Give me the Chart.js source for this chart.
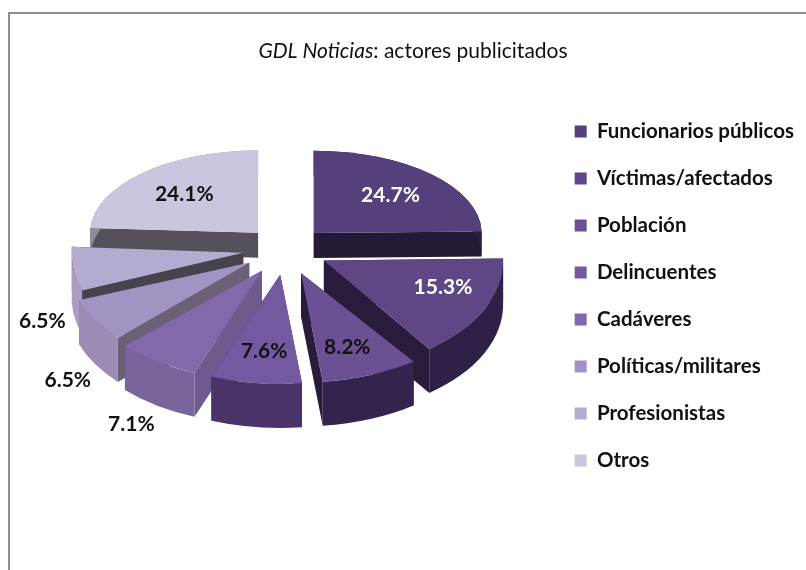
<!DOCTYPE html>
<html>
<head>
<meta charset="utf-8">
<title>GDL Noticias</title>
<style>
html, body { margin: 0; padding: 0; background: #fff; }
canvas { display: block; }
</style>
<script src="https://cdn.jsdelivr.net/npm/chart.js@4/dist/chart.umd.min.js"></script>
</head>
<body>
<canvas id="actores" width="806" height="570"></canvas>
<script>
// values
var categories = ["Funcionarios públicos", "Víctimas/afectados", "Población", "Delincuentes", "Cadáveres", "Políticas/militares", "Profesionistas", "Otros"];
var values = [24.7, 15.3, 8.2, 7.6, 7.1, 6.5, 6.5, 24.1];

var topColors = ["#54407b", "#5f4785", "#6a5193", "#735aa0", "#8169ab", "#a193c2", "#b5abd0", "#cbc6df"];
var wallColors = ["#2a1d40", "#2e2047", "#33244e", "#4a3369", "#7a649c", "#9a8cb4", "#a89dc2", "#8f8a9c"];
var cutColors = ["#241a36", "#281b3c", "#281b3c", "#3c2a58", "#6f5a90", "#6a6178", "#47424e", "#55505a"];
var labelColors = ["#fff", "#fff", "#111", "#111", "#111", "#111", "#111", "#111"];

// where each % label sits, as a share of the radius and a turn from the slice middle
var labelRadius = [0.65, 0.707, 0.725, 0.71, 1.58, 1.476, 1.28, 0.64];
var labelTurn = [0.3, -6, 0.5, 0, -6.3, -15, -20.7, 0];

var fontName = "Lato, sans-serif";
var explode = 40;

// perspective: the far half of the pie is flatter and thinner than the near half
var farSide = { sx: 1, sy: 0.49, depth: 25, cy: 247, widen: 0 };
var nearSide = { sx: 1.07, sy: 0.65, depth: 44, cy: 249, widen: 0.15 };

function sideOf(el) {
    return Math.sin((el.startAngle + el.endAngle) / 2) < 0 ? farSide : nearSide;
}

function moveToSlice(ctx, el) {
    var side = sideOf(el);
    var mid = (el.startAngle + el.endAngle) / 2;
    ctx.translate(el.x + Math.cos(mid) * explode * side.sx, side.cy + Math.sin(mid) * explode * side.sy);
    // slices nearer the viewer spread out wider
    ctx.scale(1 + side.widen * Math.abs(Math.sin(mid)), side.sy);
    ctx.translate(-el.x, -el.y);
}

function drawCut(ctx, el, angle, drop, color) {
    var ex = el.x + Math.cos(angle) * el.outerRadius;
    var ey = el.y + Math.sin(angle) * el.outerRadius;
    ctx.fillStyle = color;
    ctx.beginPath();
    ctx.moveTo(el.x, el.y);
    ctx.lineTo(ex, ey);
    ctx.lineTo(ex, ey + drop);
    ctx.lineTo(el.x, el.y + drop);
    ctx.closePath();
    ctx.fill();
}

var pie3d = {
    id: "pie3d",
    beforeDatasetDraw: function (chart, args) {
        var ctx = chart.ctx;
        var order = args.meta.data.map(function (el, i) { return i; });
        order.sort(function (a, b) {
            var ea = args.meta.data[a], eb = args.meta.data[b];
            return Math.sin((ea.startAngle + ea.endAngle) / 2) - Math.sin((eb.startAngle + eb.endAngle) / 2);
        });
        order.forEach(function (i) {
            var el = args.meta.data[i];
            var drop = sideOf(el).depth / sideOf(el).sy;
            ctx.save();
            moveToSlice(ctx, el);
            drawCut(ctx, el, el.startAngle, drop, cutColors[i]);
            drawCut(ctx, el, el.endAngle, drop, cutColors[i]);
            ctx.fillStyle = wallColors[i];
            ctx.beginPath();
            ctx.arc(el.x, el.y, el.outerRadius, el.startAngle, el.endAngle);
            ctx.arc(el.x, el.y + drop, el.outerRadius, el.endAngle, el.startAngle, true);
            ctx.closePath();
            ctx.fill();
            el.draw(ctx);
            ctx.restore();
        });
        return false;
    },
    afterDatasetsDraw: function (chart) {
        var ctx = chart.ctx;
        var meta = chart.getDatasetMeta(0);
        ctx.save();
        ctx.font = "bold 21px " + fontName;
        ctx.textAlign = "center";
        ctx.textBaseline = "middle";
        meta.data.forEach(function (el, i) {
            var side = sideOf(el);
            var mid = (el.startAngle + el.endAngle) / 2;
            var a = mid + labelTurn[i] * Math.PI / 180;
            var r = el.outerRadius * labelRadius[i];
            var px = el.x + Math.cos(mid) * explode * side.sx + Math.cos(a) * r * side.sx;
            var py = side.cy + Math.sin(mid) * explode * side.sy + Math.sin(a) * r * side.sy;
            ctx.fillStyle = labelColors[i];
            ctx.fillText(values[i].toFixed(1) + "%", px, py);
        });
        ctx.restore();
    }
};

var frameAndTitle = {
    id: "frameAndTitle",
    beforeDraw: function (chart) {
        var ctx = chart.ctx;
        ctx.save();
        ctx.fillStyle = "#fff";
        ctx.fillRect(0, 0, chart.width, chart.height);
        ctx.strokeStyle = "#8a9296";
        ctx.lineWidth = 2;
        ctx.beginPath();
        ctx.moveTo(9, chart.height);
        ctx.lineTo(9, 13);
        ctx.lineTo(chart.width, 13);
        ctx.stroke();

        var first = "GDL Noticias", rest = ": actores publicitados";
        ctx.fillStyle = "#111";
        ctx.textBaseline = "alphabetic";
        ctx.font = "21px " + fontName;
        var w2 = ctx.measureText(rest).width;
        ctx.font = "italic 21px " + fontName;
        var w1 = ctx.measureText(first).width;
        var x1 = 413 - (w1 + w2) / 2;
        ctx.fillText(first, x1, 58);
        ctx.font = "21px " + fontName;
        ctx.fillText(rest, x1 + w1, 58);
        ctx.restore();
    }
};

Chart.defaults.font.family = fontName;

new Chart(document.getElementById("actores"), {
    type: "pie",
    data: {
        labels: categories,
        datasets: [{
            data: values,
            backgroundColor: topColors,
            borderWidth: 0,
            radius: 168
        }]
    },
    options: {
        responsive: false,
        animation: false,
        events: [],
        layout: { padding: { top: 30, bottom: 8, right: 2, left: 23 } },
        plugins: {
            tooltip: { enabled: false },
            title: { display: false },
            legend: {
                position: "right",
                labels: {
                    boxWidth: 12,
                    boxHeight: 12,
                    padding: 26.5,
                    color: "#111",
                    font: { size: 20.5, weight: "bold", family: fontName }
                }
            }
        }
    },
    plugins: [frameAndTitle, pie3d]
});
</script>
</body>
</html>
